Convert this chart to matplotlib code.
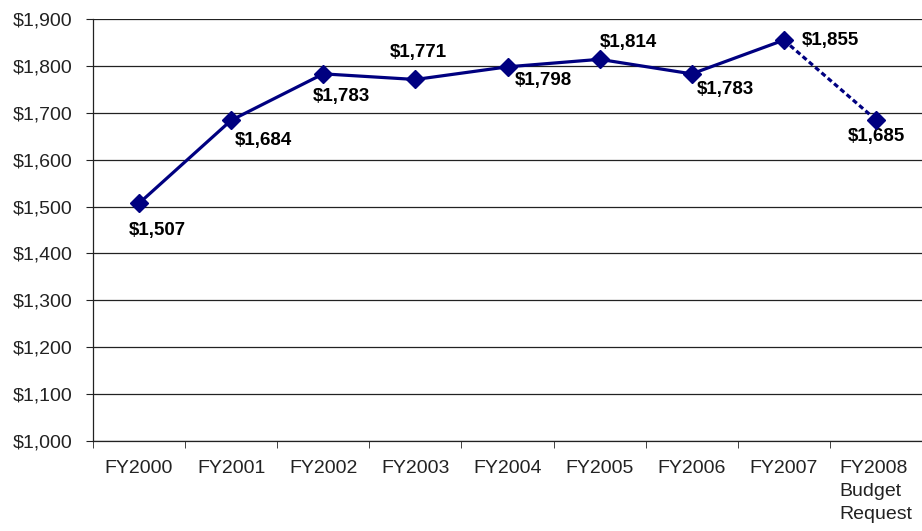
import matplotlib.pyplot as plt
import numpy as np

plt.rcParams["font.family"] = ["Liberation Sans", "DejaVu Sans"]

categories = ["FY2000", "FY2001", "FY2002", "FY2003", "FY2004",
              "FY2005", "FY2006", "FY2007", "FY2008\nBudget\nRequest"]
values = [1507, 1684, 1783, 1771, 1798, 1814, 1783, 1855, 1685]
yticks = list(range(1000, 1901, 100))

# label placement: (dx px, dy px, ha) relative to each point
label_pos = [(18, -27, "center"), (4, -20, "left"), (18, -23, "center"),
             (3, 27, "center"), (7, -14, "left"), (0, 17, "left"),
             (5, -16, "left"), (18, 0, "left"), (0, -17, "center")]

navy = "#000080"
fig = plt.figure(figsize=(9.22, 5.31), dpi=100)
ax = fig.add_axes([93 / 922, 1 - 441 / 531, 1 - 93 / 922, (441 - 19) / 531])

x = np.arange(len(values))
ax.plot(x[:-1], values[:-1], color=navy, lw=2.3, marker="D", ms=9, zorder=3)
ax.plot(x[-2:], values[-2:], color=navy, lw=2.3, ls=(0, (1.6, 1.0)), zorder=3)
ax.plot(x[-1], values[-1], color=navy, marker="D", ms=9, zorder=4)

for xi, v, (dx, dy, ha) in zip(x, values, label_pos):
    ax.annotate(f"${v:,}", (xi, v), xytext=(dx / 1.389, dy / 1.389),
                textcoords="offset points", ha=ha, va="center",
                fontsize=13.5, fontweight="bold", color="black")

ax.set_xlim(-0.5, len(values) - 0.5)
ax.set_ylim(1000, 1900)
ax.set_yticks(yticks)
ax.set_yticklabels([f"${t:,}" for t in yticks])
ax.yaxis.grid(True, color="#222222", lw=0.9)
ax.set_axisbelow(True)

ax.set_xticks(x)
ax.set_xticklabels(categories, multialignment="left", va="top", linespacing=1.45)
ax.set_xticks(np.arange(-0.5, len(values)), minor=True)
ax.tick_params(axis="x", which="major", length=0, pad=14)
ax.tick_params(axis="x", which="minor", length=5, color="#222222", direction="out")
ax.tick_params(axis="y", length=5, color="#222222", pad=10)
ax.tick_params(labelsize=14, labelcolor="#222222")

for s in ["top", "right"]:
    ax.spines[s].set_visible(False)
for s in ["left", "bottom"]:
    ax.spines[s].set_color("#222222")
    ax.spines[s].set_linewidth(0.9)

fig.savefig("out.png", dpi=100)
